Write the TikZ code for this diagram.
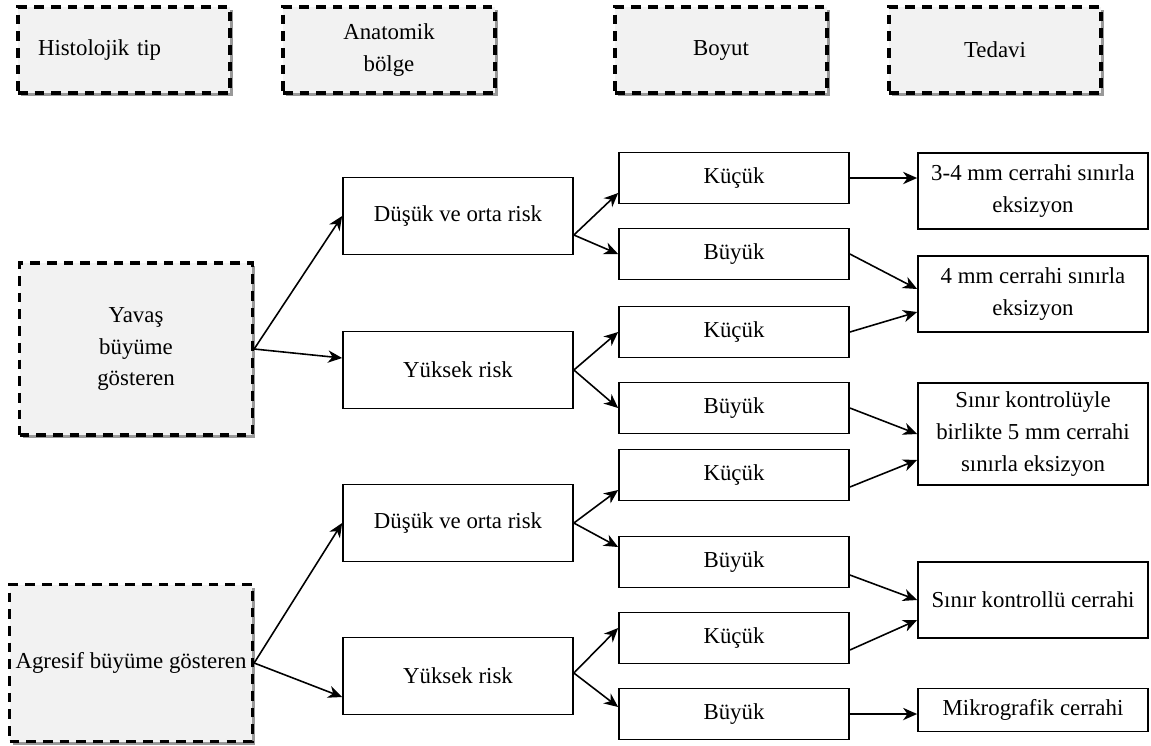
\documentclass[tikz,border=0pt]{standalone}
\usepackage{fontspec}
\setmainfont{Liberation Serif}
\usetikzlibrary{arrows.meta,shadows}

\begin{document}
\begin{tikzpicture}[x=0.02cm,y=-0.02cm,
    font=\fontsize{13}{18}\selectfont,
    headbox/.style={draw,line width=1.9pt,dash pattern=on 5.5pt off 4pt,fill=black!5,
        minimum width=4.24cm,minimum height=1.72cm,align=center,
        drop shadow={shadow xshift=0.06cm,shadow yshift=-0.06cm,fill=black!40,opacity=1}},
    riskbox/.style={draw,line width=1pt,minimum width=4.6cm,minimum height=1.54cm,align=center},
    sizebox/.style={draw,line width=1pt,minimum width=4.6cm,minimum height=1.02cm},
    treatbox/.style={draw,line width=1pt,minimum width=4.6cm,align=center},
    arr/.style={line width=0.9pt,-{Stealth[length=8pt,width=7pt,inset=2.5pt]}}]

\useasboundingbox (0,0) rectangle (1151,745);

\node[headbox,text width=3.44cm,align=left] (histo) at (124,50) {Histolojik tip};
\node[headbox] (anat) at (389,50) {Anatomik\\bölge};
\node[headbox] (boyut) at (721,50) {Boyut};
\node[headbox] (tedavi) at (995,50) {Tedavi};

\node[headbox,minimum width=4.66cm,minimum height=3.44cm] (yavas) at (136,349) {Yavaş\\büyüme\\gösteren};
\node[headbox,minimum width=4.86cm,minimum height=3.14cm,inner sep=1pt] (agresif) at (131,663) {Agresif büyüme gösteren};

\node[riskbox] (dus1) at (458,216) {Düşük ve orta risk};
\node[riskbox] (yuk1) at (458,370) {Yüksek risk};
\node[riskbox] (dus2) at (458,523) {Düşük ve orta risk};
\node[riskbox] (yuk2) at (458,676) {Yüksek risk};

\foreach \yy/\lab [count=\i] in {178/Küçük,254/Büyük,332/Küçük,408/Büyük,475/Küçük,562/Büyük,638/Küçük,714/Büyük}
{
    \node[sizebox] (b\i) at (734,\yy) {\lab};
}

\node[treatbox,minimum height=1.52cm] (t1) at (1033,191) {3-4 mm cerrahi sınırla\\eksizyon};
\node[treatbox,minimum height=1.52cm] (t2) at (1033,294) {4 mm cerrahi sınırla\\eksizyon};
\node[treatbox,minimum height=2.04cm] (t3) at (1033,434) {Sınır kontrolüyle\\birlikte 5 mm cerrahi\\sınırla eksizyon};
\node[treatbox,minimum height=1.52cm] (t4) at (1033,600) {Sınır kontrollü cerrahi};
\node[treatbox,minimum height=0.86cm] (t5) at (1033,710) {Mikrografik cerrahi};

\draw[arr] (yavas.east) -- (dus1.west);
\draw[arr] (yavas.east) -- ([yshift=0.24cm]yuk1.west);
\draw[arr] (agresif.east) -- (dus2.west);
\draw[arr] (agresif.east) -- ([yshift=-0.42cm]yuk2.west);

\draw[arr] ([yshift=-0.38cm]dus1.east) -- ([yshift=-0.3cm]b1.west);
\draw[arr] ([yshift=-0.38cm]dus1.east) -- (b2.west);
\draw[arr] (yuk1.east) -- (b3.west);
\draw[arr] (yuk1.east) -- (b4.west);
\draw[arr] (dus2.east) -- ([yshift=-0.3cm]b5.west);
\draw[arr] (dus2.east) -- ([yshift=0.3cm]b6.west);
\draw[arr] ([yshift=0.06cm]yuk2.east) -- ([yshift=0.2cm]b7.west);
\draw[arr] ([yshift=0.06cm]yuk2.east) -- ([yshift=0.14cm]b8.west);

\draw[arr] (b1.east) -- (b1.east -| t1.west);
\draw[arr] (b2.east) -- ([yshift=0.1cm]t2.west);
\draw[arr] (b3.east) -- ([yshift=-0.36cm]t2.west);
\draw[arr] (b4.east) -- (t3.west);
\draw[arr] ([yshift=-0.24cm]b5.east) -- ([yshift=-0.52cm]t3.west);
\draw[arr] ([yshift=-0.26cm]b6.east) -- (t4.west);
\draw[arr] ([yshift=-0.24cm]b7.east) -- ([yshift=-0.4cm]t4.west);
\draw[arr] (b8.east) -- (b8.east -| t5.west);

\end{tikzpicture}
\end{document}
